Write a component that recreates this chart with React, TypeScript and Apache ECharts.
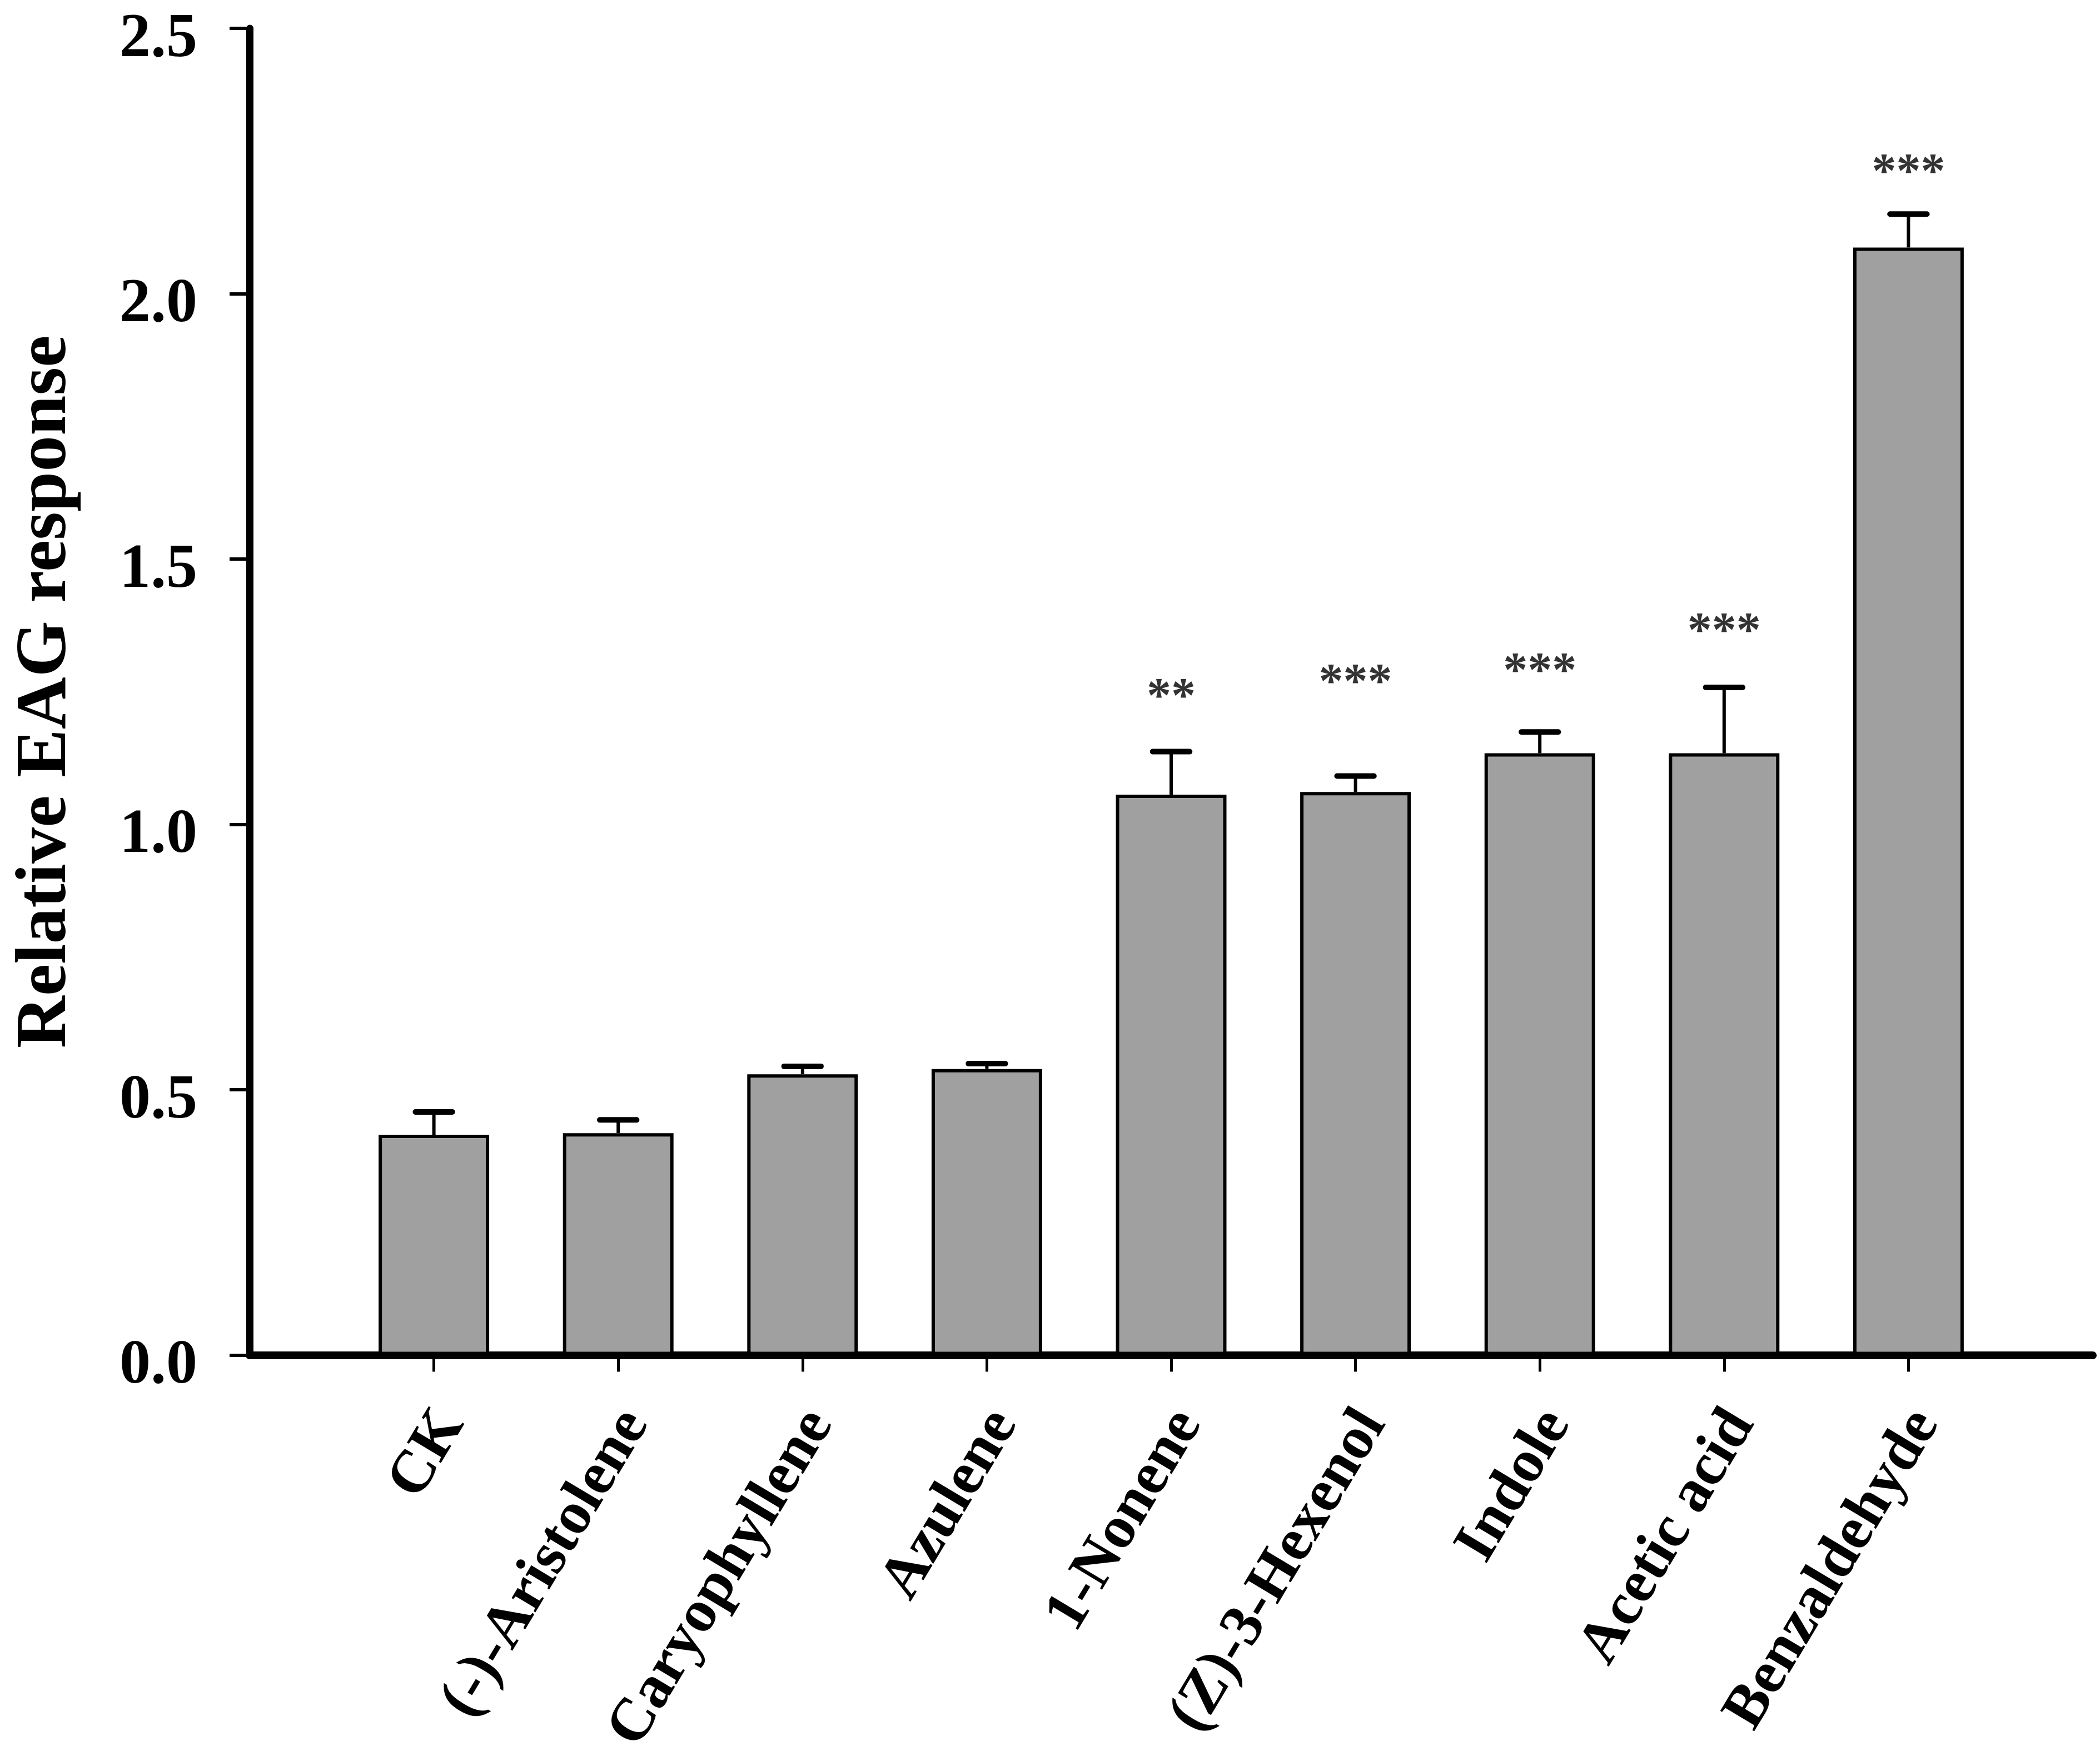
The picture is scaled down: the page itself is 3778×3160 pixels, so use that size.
import React, { useEffect, useRef } from "react";
import * as echarts from "echarts";

const categories = [
  "CK",
  "(-)-Aristolene",
  "Caryophyllene",
  "Azulene",
  "1-Nonene",
  "(Z)-3-Hexenol",
  "Indole",
  "Acetic acid",
  "Benzaldehyde",
];
const means = [0.415, 0.418, 0.529, 0.539, 1.056, 1.061, 1.134, 1.134, 2.087];
const errUp = [0.043, 0.025, 0.015, 0.01, 0.081, 0.03, 0.04, 0.124, 0.063];
const sigMarks = ["", "", "", "", "**", "***", "***", "***", "***"];
const sigY = [null, null, null, null, 1.252, 1.28, 1.3, 1.376, 2.241];
const yTicks = { min: 0, max: 2.5, interval: 0.5 };

const FONT = '"Liberation Serif", "Times New Roman", serif';

export default function App() {
  const ref = useRef<HTMLDivElement>(null);
  useEffect(() => {
    document.body.style.margin = "0";
    document.body.style.overflow = "hidden";
    const chart = echarts.init(ref.current!, null, { renderer: "svg" });
    const axisCats = ["", ...categories, ""];
    const barData = [null, ...means, null];
    const errData = means.map((m, i) => [i + 1, m, m + errUp[i]]);
    const sigData = categories
      .map((c, i) => (sigY[i] == null ? null : { value: [i + 1, sigY[i]], mark: sigMarks[i] }))
      .filter((d) => d !== null);

    chart.setOption({
      animation: false,
      backgroundColor: "#ffffff",
      grid: { left: 446, right: 13, top: 51, bottom: 720, containLabel: false },
      xAxis: {
        type: "category",
        data: axisCats,
        boundaryGap: false,
        axisLine: { show: true, lineStyle: { color: "#000", width: 14 } },
        axisTick: {
          show: true,
          length: 30,
          interval: (index: number) => index > 0 && index < axisCats.length - 1,
          lineStyle: { color: "#000", width: 5 },
        },
        axisLabel: {
          interval: 0,
          rotate: 59,
          margin: 90,
          verticalAlign: "top",
          lineHeight: 56,
          color: "#000",
          fontFamily: FONT,
          fontWeight: "bold",
          fontSize: 109,
        },
        splitLine: { show: false },
      },
      yAxis: {
        type: "value",
        min: yTicks.min,
        max: yTicks.max,
        interval: yTicks.interval,
        name: "Relative EAG response",
        nameLocation: "middle",
        nameRotate: 90,
        nameGap: 311,
        nameTextStyle: { color: "#000", fontFamily: FONT, fontWeight: "bold", fontSize: 130 },
        axisLine: { show: true, lineStyle: { color: "#000", width: 13 } },
        axisTick: { show: true, length: 36, lineStyle: { color: "#000", width: 6 } },
        axisLabel: {
          margin: 94,
          verticalAlign: "top",
          lineHeight: 24,
          color: "#000",
          fontFamily: FONT,
          fontWeight: "bold",
          fontSize: 112,
          formatter: (v: number) => v.toFixed(1),
        },
        splitLine: { show: false },
      },
      series: [
        {
          type: "bar",
          data: barData,
          barWidth: "60%",
          itemStyle: { color: "#a0a0a0", borderColor: "#000", borderWidth: 6 },
          z: 2,
        },
        {
          type: "custom",
          data: errData,
          encode: { x: 0, y: [1, 2] },
          z: 3,
          renderItem: (params: any, api: any) => {
            const base = api.coord([api.value(0), api.value(1)]);
            const top = api.coord([api.value(0), api.value(2)]);
            const band = api.size([1, 0])[0];
            const half = band * 0.1;
            return {
              type: "group",
              children: [
                {
                  type: "line",
                  shape: { x1: base[0], y1: base[1], x2: top[0], y2: top[1] },
                  style: { stroke: "#000", lineWidth: 6 },
                },
                {
                  type: "line",
                  shape: { x1: top[0] - half, y1: top[1], x2: top[0] + half, y2: top[1] },
                  style: { stroke: "#000", lineWidth: 10, lineCap: "round" },
                },
              ],
            };
          },
        },
        {
          type: "scatter",
          data: sigData,
          symbolSize: 0,
          z: 4,
          label: {
            show: true,
            position: "inside",
            offset: [0, 8],
            formatter: (p: any) => p.data.mark,
            color: "#000",
            fontFamily: FONT,
            fontWeight: "bold",
            fontSize: 88,
          },
        },
      ],
    });
    return () => chart.dispose();
  }, []);
  return <div ref={ref} style={{ width: 3778, height: 3160, overflow: "hidden" }} />;
}
